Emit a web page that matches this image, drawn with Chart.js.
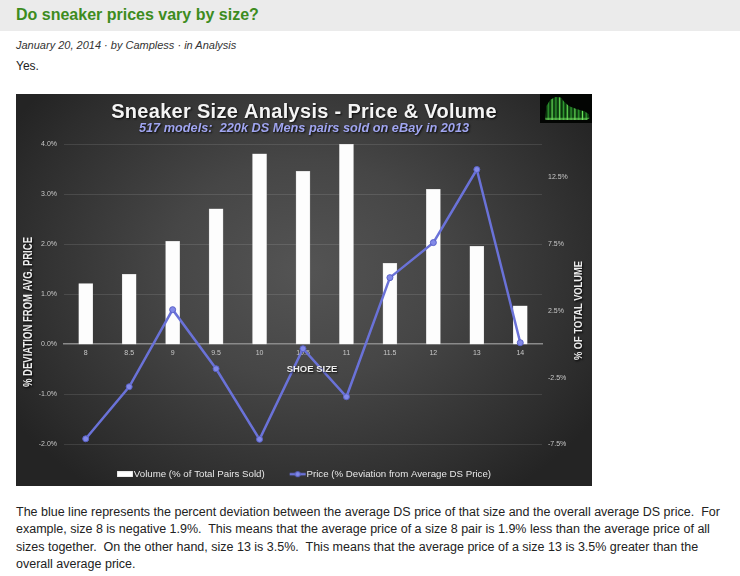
<!DOCTYPE html>
<html><head><meta charset="utf-8">
<script src="https://cdn.jsdelivr.net/npm/chart.js@4"></script>
<style>
html,body{margin:0;padding:0;background:#fff;}
body{width:740px;height:576px;overflow:hidden;position:relative;font-family:"Liberation Sans",Arial,sans-serif;}
#band{position:absolute;left:0;top:0;width:740px;height:31px;background:#ebebeb;}
#ttl{position:absolute;left:16px;top:5px;font-weight:bold;font-size:16px;line-height:20px;color:#3d8c1e;white-space:nowrap;}
#meta{position:absolute;left:16px;top:39px;font-style:italic;font-size:11px;line-height:13px;color:#333;white-space:nowrap;}
#yes{position:absolute;left:16px;top:59px;font-size:12px;line-height:14px;color:#222;}
#box{position:absolute;left:16px;top:94px;width:576px;height:392px;overflow:hidden;
  background:radial-gradient(ellipse 60% 70% at 50% 45%, #545454 0%, #464646 40%, #2d2d2d 85%, #242424 100%);}
#box canvas{position:absolute;left:0;top:0;}
#para{position:absolute;left:16px;top:504px;font-size:12.5px;line-height:17.4px;color:#222;white-space:pre;}
</style></head>
<body>
<div id="band"></div>
<div id="ttl">Do sneaker prices vary by size?</div>
<div id="meta">January 20, 2014 · by Campless · in Analysis</div>
<div id="yes">Yes.</div>
<div id="box"><canvas id="c" width="576" height="395"></canvas></div>
<div id="para">The blue line represents the percent deviation between the average DS price of that size and the overall average DS price.  For
example, size 8 is negative 1.9%.  This means that the average price of a size 8 pair is 1.9% less than the average price of all
sizes together.  On the other hand, size 13 is 3.5%.  This means that the average price of a size 13 is 3.5% greater than the
overall average price.</div>
<script>
// ---- data ----
const sizes = ['8', '8.5', '9', '9.5', '10', '10.5', '11', '11.5', '12', '13', '14'];
const volumePct = [4.55, 5.23, 7.7, 10.15, 14.27, 12.95, 15.0, 6.05, 11.6, 7.33, 2.88];
const priceDevPct = [-1.89, -0.85, 0.69, -0.49, -1.90, -0.09, -1.05, 1.33, 2.03, 3.49, 0.03];
const leftTicks = [-2, -1, 0, 1, 2, 3, 4];
const rightTicks = [-7.5, -2.5, 2.5, 7.5, 12.5];
const seriesNames = ['Volume (% of Total Pairs Sold)', 'Price (% Deviation from Average DS Price)'];
const chartTitle = 'Sneaker Size Analysis - Price & Volume';
const chartSubtitle = '517 models:  220k DS Mens pairs sold on eBay in 2013';
const xTitle = 'SHOE SIZE';
const leftTitle = '% DEVIATION FROM AVG. PRICE';
const rightTitle = '% OF TOTAL VOLUME';

const FONT = '"Liberation Sans", Arial, sans-serif';
Chart.defaults.font.family = FONT;

const LINE_COLOR = '#6a72d8';

// legend swatches
function makeCanvas(w, h) { const c = document.createElement('canvas'); c.width = w; c.height = h; return c; }
const barSwatch = makeCanvas(28, 6);
(function () { const g = barSwatch.getContext('2d'); g.fillStyle = '#cfcfcf'; g.fillRect(8, 0, 16, 6); g.fillStyle = '#ffffff'; g.fillRect(8.5, 0.5, 15, 5); })();
const lineSwatch = makeCanvas(28, 8);
(function () {
  const g = lineSwatch.getContext('2d');
  g.strokeStyle = LINE_COLOR; g.lineWidth = 2.5; g.beginPath(); g.moveTo(8, 4); g.lineTo(24, 4); g.stroke();
  g.fillStyle = '#8289e8'; g.strokeStyle = '#5a62c8'; g.lineWidth = 1; g.beginPath(); g.arc(16, 4, 2.6, 0, Math.PI * 2); g.fill(); g.stroke();
})();

function drawLogo(ctx, x, y, w, h) {
  ctx.save();
  ctx.fillStyle = '#030503';
  ctx.fillRect(x, y, w, h);
  const pts = [[0.1,0.88],[0.12,0.42],[0.2,0.2],[0.3,0.1],[0.4,0.12],[0.46,0.26],[0.56,0.42],[0.7,0.52],[0.86,0.6],[0.94,0.7],[0.95,0.84],[0.9,0.9],[0.12,0.9]];
  ctx.beginPath();
  pts.forEach((p, i) => { const px = x + p[0] * w, py = y + p[1] * h; if (i) ctx.lineTo(px, py); else ctx.moveTo(px, py); });
  ctx.closePath();
  ctx.clip();
  ctx.fillStyle = '#17561a';
  ctx.fillRect(x, y, w, h);
  for (let i = 0; i < 24; i++) {
    ctx.fillStyle = (i % 4 === 0) ? '#6be25a' : (i % 4 === 2 ? '#2f9a30' : '#0b300c');
    ctx.fillRect(x + 4 + i * 1.9, y, 1, h);
  }
  ctx.fillStyle = 'rgba(120,230,100,0.55)';
  ctx.fillRect(x, y + h * 0.82, w, h * 0.08);
  ctx.restore();
}

const decor = {
  id: 'decor',
  afterDraw(chart) {
    const ctx = chart.ctx;
    const W = chart.width;
    ctx.save();
    ctx.textAlign = 'center';
    ctx.textBaseline = 'middle';
    ctx.shadowColor = 'rgba(0,0,0,0.85)';
    ctx.shadowOffsetX = 1; ctx.shadowOffsetY = 1.5; ctx.shadowBlur = 2;
    ctx.fillStyle = '#f4f4f4';
    ctx.font = 'bold 20px ' + FONT;
    if ('letterSpacing' in ctx) ctx.letterSpacing = '0.3px';
    ctx.fillText(chartTitle, W / 2, 18);
    if ('letterSpacing' in ctx) ctx.letterSpacing = '0px';
    ctx.fillStyle = '#a0a5f0';
    ctx.font = 'italic bold 12.75px ' + FONT;
    ctx.fillText(chartSubtitle, W / 2, 34);
    ctx.fillStyle = '#eeeeee';
    ctx.font = 'bold 9.5px ' + FONT;
    ctx.fillText(xTitle, 296, 275);
    ctx.font = 'bold 12px ' + FONT;
    ctx.save(); ctx.translate(12.5, 218); ctx.rotate(-Math.PI / 2); ctx.fillText(leftTitle, 0, 0, 150); ctx.restore();
    ctx.font = 'bold 11.5px ' + FONT;
    ctx.save(); ctx.translate(562.5, 216.5); ctx.rotate(-Math.PI / 2); ctx.fillText(rightTitle, 0, 0, 99); ctx.restore();
    ctx.restore();
    drawLogo(ctx, 524, 0, 52, 29);
  }
};

new Chart(document.getElementById('c'), {
  type: 'bar',
  data: {
    labels: sizes,
    datasets: [
      { type: 'bar', label: seriesNames[0], data: volumePct, yAxisID: 'y1', order: 1,
        backgroundColor: '#fdfdfd', borderColor: '#d0d0d0', borderWidth: 0.5, barThickness: 14 },
      { type: 'line', label: seriesNames[1], data: priceDevPct, yAxisID: 'y', order: 0,
        borderColor: LINE_COLOR, borderWidth: 2.5, tension: 0,
        pointRadius: 3, pointBackgroundColor: '#8289e8', pointBorderColor: '#5a62c8', pointBorderWidth: 1 }
    ]
  },
  options: {
    responsive: false,
    devicePixelRatio: 1,
    animation: false,
    layout: { padding: { top: 50, left: 0, right: 0, bottom: 0 } },
    scales: {
      x: {
        position: { y: 0 },
        offset: true,
        grid: { display: false, drawTicks: false },
        border: { display: true, color: '#8a8a8a', width: 1.5 },
        ticks: { font: { size: 7 }, color: '#c8c8c8', padding: 4.5, maxRotation: 0, autoSkip: false }
      },
      y: {
        position: 'left',
        min: -2, max: 4,
        afterBuildTicks: (s) => { s.ticks = leftTicks.map(v => ({ value: v })); },
        afterFit: (s) => { s.width = 48; },
        grid: { color: (c) => c.tick && c.tick.value === 0 ? 'rgba(0,0,0,0)' : 'rgba(255,255,255,0.11)', drawTicks: false, lineWidth: 1 },
        border: { display: false },
        ticks: { font: { size: 7 }, color: '#c8c8c8', padding: 7, callback: (v) => v.toFixed(1) + '%' }
      },
      y1: {
        position: 'right',
        min: -7.5, max: 15,
        afterBuildTicks: (s) => { s.ticks = rightTicks.map(v => ({ value: v })); },
        afterFit: (s) => { s.width = 50; },
        grid: { display: false, drawTicks: false },
        border: { display: false },
        ticks: { font: { size: 7 }, color: '#c8c8c8', padding: 6, callback: (v) => v.toFixed(1) + '%' }
      }
    },
    plugins: {
      tooltip: { enabled: false },
      title: { display: false },
      legend: {
        position: 'bottom',
        labels: {
          usePointStyle: true,
          pointStyleWidth: 12,
          padding: 25,
          color: '#e8e8e8',
          font: { size: 9.7 },
          generateLabels: () => [
            { text: seriesNames[0], pointStyle: barSwatch, fillStyle: '#fff', strokeStyle: '#fff', lineWidth: 0, hidden: false, datasetIndex: 0, fontColor: '#e8e8e8' },
            { text: seriesNames[1], pointStyle: lineSwatch, fillStyle: LINE_COLOR, strokeStyle: LINE_COLOR, lineWidth: 0, hidden: false, datasetIndex: 1, fontColor: '#e8e8e8' }
          ]
        }
      }
    }
  },
  plugins: [decor]
});
</script>
</body></html>
